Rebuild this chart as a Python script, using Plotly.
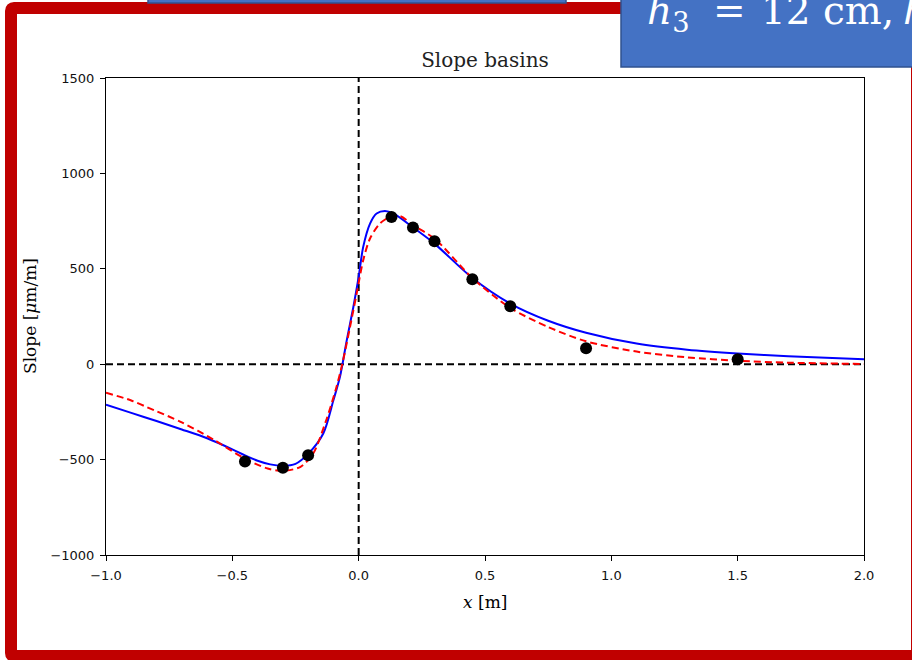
import plotly.graph_objects as go

# ---- data ----
meas_x = [-0.45, -0.30, -0.20, 0.13, 0.215, 0.30, 0.45, 0.60, 0.90, 1.50]
meas_y = [-510, -543, -477, 772, 716, 644, 445, 304, 84, 26]

model_blue_x = [-1.0, -0.9, -0.8, -0.7, -0.6, -0.5, -0.45, -0.4, -0.35, -0.3, -0.25,
                -0.2, -0.14, -0.1, -0.074, -0.047, -0.021, 0.0, 0.018, 0.045, 0.071,
                0.104, 0.137, 0.22, 0.3, 0.45, 0.6, 0.75, 0.9, 1.1, 1.3, 1.5,
                1.7, 2.0]
model_blue_y = [-212, -255, -298, -342, -388, -446, -478, -506, -525, -532, -522,
                -470, -363, -189, -66, 126, 300, 458, 615, 737, 790,
                803, 790, 712, 632, 452, 318, 228, 165, 108, 76, 56,
                42, 26]

model_red_x = [-1.0, -0.9, -0.84, -0.7, -0.575, -0.45, -0.36, -0.3, -0.23, -0.18,
               -0.13, -0.09, -0.065, -0.035, -0.008, 0.018, 0.045, 0.084, 0.124,
               0.164, 0.216, 0.303, 0.452, 0.6, 0.75, 0.9, 1.1, 1.3,
               1.5, 1.7, 2.0]
model_red_y = [-150, -190, -224, -305, -395, -495, -547, -559, -538, -468,
               -300, -130, 0, 190, 370, 545, 659, 737, 772,
               776, 728, 655, 449, 295, 195, 120, 66, 36,
               18, 8, 1]

x_range = [-1.0, 2.0]
y_range = [-1000, 1500]
x_ticks = [-1.0, -0.5, 0.0, 0.5, 1.0, 1.5, 2.0]
y_ticks = [-1000, -500, 0, 500, 1000, 1500]

# ---- layout geometry (pixels) ----
W, H = 912, 660
PL, PR, PT, PB = 106, 864, 78, 555


def X(p):
    return (p - PL) / (PR - PL)


def Y(p):
    return (PB - p) / (PB - PT)


fig = go.Figure()

fig.add_trace(go.Scatter(x=model_blue_x, y=model_blue_y, mode="lines",
                         line=dict(color="#0000ff", width=2, shape="spline", smoothing=0.8),
                         showlegend=False, hoverinfo="skip"))
fig.add_trace(go.Scatter(x=model_red_x, y=model_red_y, mode="lines",
                         line=dict(color="#ff0000", width=2, dash="7px,4px",
                                   shape="spline", smoothing=0.8),
                         showlegend=False, hoverinfo="skip"))
fig.add_trace(go.Scatter(x=meas_x, y=meas_y, mode="markers",
                         marker=dict(color="black", size=12),
                         showlegend=False))

shapes = []
# zero reference lines
shapes.append(dict(type="line", xref="x", yref="y", x0=0, x1=0, y0=y_range[0], y1=y_range[1],
                   line=dict(color="black", width=2, dash="7px,4px"), layer="below"))
shapes.append(dict(type="line", xref="x", yref="y", x0=x_range[0], x1=x_range[1], y0=0, y1=0,
                   line=dict(color="black", width=2, dash="7px,4px"), layer="below"))

# red slide frame
L, R, T, B, r = 11, 917, 8, 656, 3
path = (f"M {X(L)},{Y(T + r)} Q {X(L)},{Y(T)} {X(L + r)},{Y(T)} "
        f"L {X(R)},{Y(T)} L {X(R)},{Y(B)} L {X(L + r)},{Y(B)} "
        f"Q {X(L)},{Y(B)} {X(L)},{Y(B - r)} Z")
shapes.append(dict(type="path", xref="paper", yref="paper", path=path,
                   line=dict(color="#C00000", width=12), fillcolor="rgba(0,0,0,0)",
                   layer="above"))
# blue boxes
shapes.append(dict(type="rect", xref="paper", yref="paper",
                   x0=X(148), x1=X(566), y0=Y(3), y1=Y(-10),
                   fillcolor="#4472C4", line=dict(color="#2F528F", width=1.5), layer="above"))
shapes.append(dict(type="rect", xref="paper", yref="paper",
                   x0=X(621), x1=X(940), y0=Y(67), y1=Y(-10),
                   fillcolor="#4472C4", line=dict(color="#2F528F", width=1.5), layer="above"))

annotations = []
big = dict(family="DejaVu Serif", size=39, color="white")
for txt, px in [("<i>h</i><sub>3</sub>", 645), ("=", 711), ("12 cm,", 759), ("<i>h</i>", 901)]:
    annotations.append(dict(text=txt, xref="paper", yref="paper",
                            x=X(px), y=Y(-14), xanchor="left", yanchor="top",
                            showarrow=False, font=big))
# axis labels
annotations.append(dict(text="Slope [<i>μ</i>m/m]", xref="paper", yref="paper",
                        x=X(30), y=Y(316), xanchor="center", yanchor="middle",
                        textangle=-90, showarrow=False,
                        font=dict(family="DejaVu Serif", size=17, color="black")))
annotations.append(dict(text="<i>x</i> [m]", xref="paper", yref="paper",
                        x=X(485), y=Y(602), xanchor="center", yanchor="middle",
                        showarrow=False,
                        font=dict(family="DejaVu Serif", size=17, color="black")))

axis_common = dict(showline=True, linecolor="black", linewidth=1, mirror=True,
                   ticks="outside", ticklen=5, tickcolor="black", tickwidth=1,
                   showgrid=False, zeroline=False, ticklabelstandoff=3,
                   tickfont=dict(family="DejaVu Sans", size=13, color="#111"))

fig.update_layout(
    width=W, height=H,
    margin=dict(l=PL, r=W - PR, t=PT, b=H - PB),
    paper_bgcolor="white", plot_bgcolor="white",
    title=dict(text="Slope basins", x=0.5, xref="paper", xanchor="center",
               y=1 - 60 / H, yref="container", yanchor="middle",
               font=dict(family="DejaVu Serif", size=20, color="#222")),
    xaxis=dict(range=x_range, tickvals=x_ticks, tickformat=".1f", **axis_common),
    yaxis=dict(range=y_range, tickvals=y_ticks, **axis_common),
    shapes=shapes,
    annotations=annotations,
)

fig.write_html("out.html")
